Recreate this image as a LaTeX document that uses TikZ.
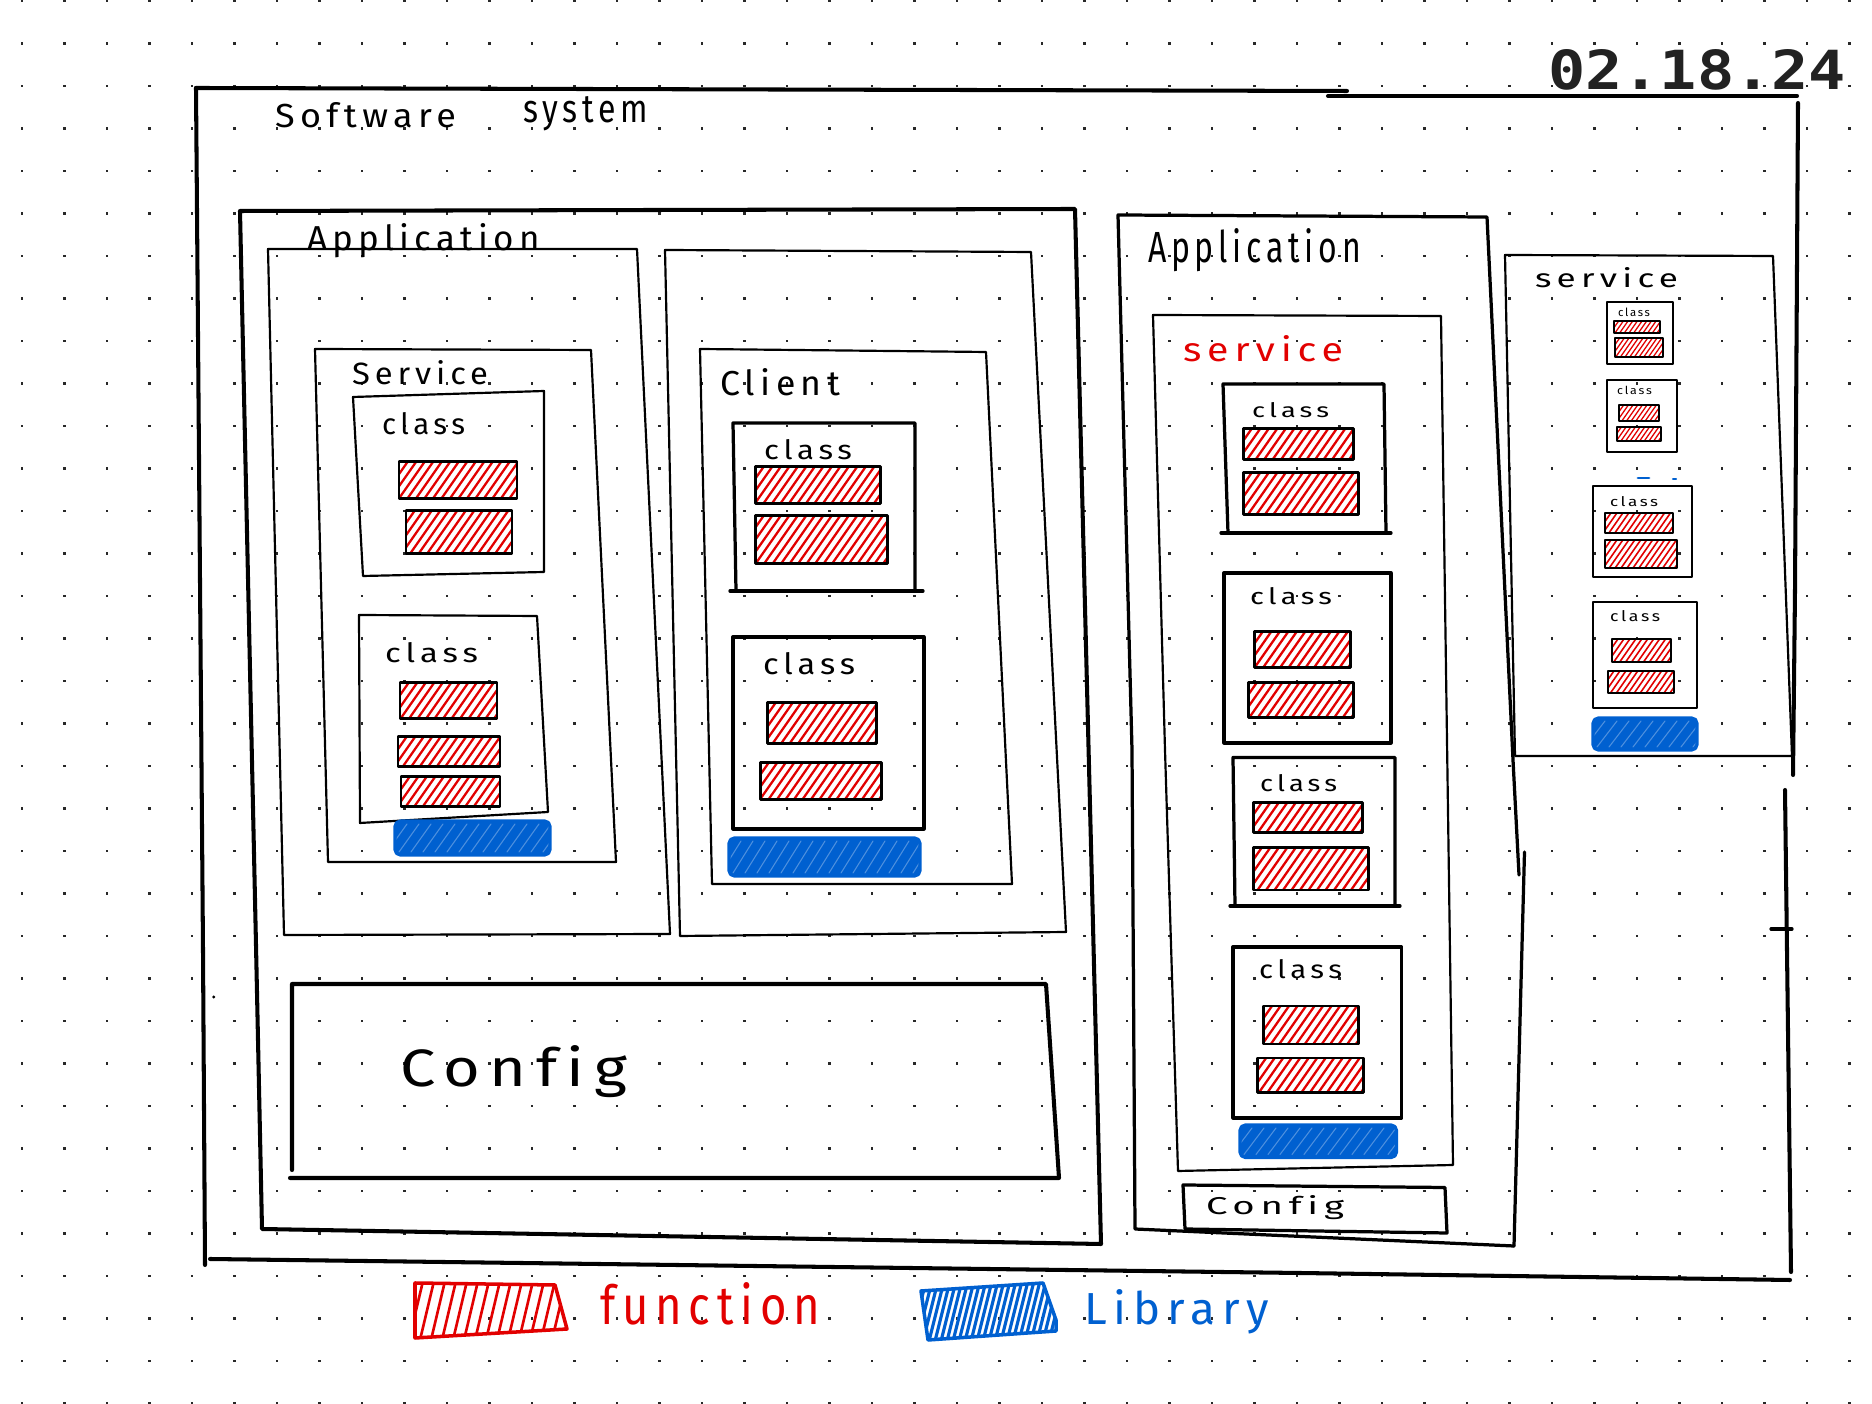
\documentclass[tikz,border=0pt]{standalone}
\usepackage{fontspec}
\usepackage{graphicx}
\setmainfont{Fira Sans}
\newfontfamily\hand{Fira Sans}[LetterSpace=15, Ligatures=NoCommon]
\newfontfamily\datef{DejaVu Sans Mono}
\newlength\pxu
\setlength\pxu{0.01cm}
\newcommand\fitt[3]{\resizebox{#1\pxu}{#2\pxu}{\hand #3}}
\definecolor{fred}{RGB}{226,0,0}
\definecolor{libblue}{RGB}{0,96,208}
\definecolor{dotc}{RGB}{40,40,40}
\definecolor{datec}{RGB}{34,34,34}
\tikzset{
  lab/.style={anchor=base west, inner sep=0pt, outer sep=0pt},
  wfour/.style={line width=1.15pt},
  wthree/.style={line width=0.92pt},
  wtwo/.style={line width=0.62pt},
  wsmall/.style={line width=0.45pt},
  hatchred/.style={fred, line width=0.65pt},
}
% red function bar: [scale]{x1}{y1}{x2}{y2}
\newcommand\fbar[5][1]{%
  \fill[white] (#2,#3) rectangle (#4,#5);
  \begin{scope}
    \clip (#2,#3) rectangle (#4,#5);
    \foreach \k in {0,...,26}{
      \draw[hatchred, line width={0.65pt*#1}] ({#2-0.7*(#5-#3)+\k*8.5*#1},#5) -- ({#2+\k*8.5*#1},#3);
    }
  \end{scope}
  \draw[line width={0.85pt*#1}] (#2,#3) rectangle (#4,#5);
}
% blue library bar
\newcommand\lbar[4]{%
  \fill[libblue, rounded corners=1.5] (#1,#2) rectangle (#3,#4);
  \begin{scope}
    \clip (#1,#2) rectangle (#3,#4);
    \foreach \k in {0,...,18}{
      \draw[white, line width=0.3pt, opacity=0.3] ({#1-20+\k*12},{#4-3}) -- ({#1+\k*12},{#2+3});
    }
  \end{scope}
  \draw[libblue, line width=0.9pt, rounded corners=1.5] (#1,#2) rectangle (#3,#4);
}
\begin{document}
\begin{tikzpicture}[x=0.01cm, y=-0.01cm, line cap=round, line join=round]
\useasboundingbox (0,0) rectangle (1872,1404);
\fill[white] (0,0) rectangle (1872,1404);
% dot grid
\foreach \i in {0,...,43}{
  \foreach \j in {0,...,33}{
    \fill[dotc] ({22+42.5*\i-1.3},{1+42.5*\j-1.3}) rectangle ++(2.6,2.6);
  }
}
% ---------- Software system outer box ----------
\draw[wfour] (196,88) -- (1347,91);
\draw[wfour] (1328,96) -- (1797,96);
\draw[wfour] (1798,103) -- (1795,590) -- (1793,775);
\draw[wfour] (1785,790) -- (1791,1272);
\draw[wthree] (1771,929) -- (1792,929);
\draw[wfour] (196,88) -- (203,950) -- (205,1265);
\draw[wfour] (210,1259) -- (1300,1273) -- (1790,1280);
\fill (213.7,997) circle (1.6);
\node[lab] (tsoft) at (275,128) {\fitt{181}{25}{Software}};
\node[lab] (tsys) at (523,123) {\fitt{125}{26}{system}};
\node[lab, text=datec] (tdate) at (1548,90) {\resizebox{298\pxu}{40\pxu}{\datef\bfseries 02.18.24}};
% ---------- Left application ----------
\draw[wfour] (240,211) -- (1075,209) -- (1101,1244) -- (262,1229) -- (256,945) -- cycle;
\node[lab] (tappl) at (307,251) {\fitt{233}{27}{Application}};
% inner box 1
\draw[wtwo] (268,249) -- (637,249) -- (670,934) -- (284,935) -- cycle;
% Service
\draw[wtwo] (315,349) -- (591,350) -- (616,862) -- (328,862) -- cycle;
\node[lab] (tservl) at (352,385) {\fitt{136}{24}{Service}};
\draw[wtwo] (353,397) -- (544,391) -- (544,572) -- (363,576) -- cycle;
\node[lab] (tcl1) at (382,435) {\fitt{83}{22}{class}};
\fbar{399}{462}{517}{498.5}
\fbar{406}{511}{512}{554}
\draw[wtwo] (359,615) -- (537,616) -- (548,812) -- (360,823) -- cycle;
\node[lab] (tcl2) at (385,663) {\fitt{93}{20}{class}};
\fbar{400}{683}{497}{719}
\fbar{398}{737}{500}{767}
\fbar{401}{777}{500}{807}
\lbar{395}{821}{550}{855}
% client container
\draw[wtwo] (665,250) -- (1031,252) -- (1066,932) -- (680,936) -- cycle;
\draw[wtwo] (700,349) -- (986,352) -- (1012,884) -- (712,884) -- cycle;
\node[lab] (tclient) at (720,396) {\fitt{120}{27}{Client}};
\draw[wthree] (733,423) -- (915,423) -- (915,591) -- (736,591) -- cycle;
\draw[wthree] (730,591) -- (923,591);
\node[lab] (tcl3) at (764,460) {\fitt{88}{20}{class}};
\fbar{755}{467}{880}{504}
\fbar{755}{516}{887}{564}
\draw[wthree] (733,637) -- (924,637) -- (924,829) -- (733,829) -- cycle;
\node[lab] (tcl4) at (763,675) {\fitt{92}{22}{class}};
\fbar{767}{703}{876}{744}
\fbar{760}{763}{881}{800}
\lbar{729}{838}{920}{876}
% Config
\draw[wfour] (292,1170) -- (292,984) -- (1046,984) -- (1059,1178) -- (290,1178);
\node[lab] (tconf) at (400,1087) {\fitt{227}{41}{Config}};
% ---------- Right application ----------
\draw[wthree] (1514,1246) -- (1135,1229) -- (1132,750) -- (1118,215) -- (1487,217) -- (1513,760) -- (1519,875);
\draw[wthree] (1524.5,852) -- (1514,1246);
\node[lab] (tappr) at (1148,263) {\fitt{213}{34}{Application}};
\draw[wtwo] (1153,315) -- (1441,316) -- (1453,1165) -- (1178,1171) -- (1165,750) -- cycle;
\node[lab, text=fred] (tservr) at (1183,362) {\fitt{160}{26}{service}};
\draw[wthree] (1223,384) -- (1384,384) -- (1386,533) -- (1228,533) -- cycle;
\draw[wthree] (1221,533) -- (1391,533);
\node[lab] (tcl5) at (1252,418) {\fitt{77}{15}{class}};
\fbar{1243}{429}{1353}{460}
\fbar{1243}{473}{1358}{515}
\draw[wthree] (1224,573) -- (1391,573) -- (1391,743) -- (1224,743) -- cycle;
\node[lab] (tcl6) at (1250,605) {\fitt{82}{17}{class}};
\fbar{1254}{632}{1350}{668}
\fbar{1248}{683}{1353}{718}
\draw[wthree] (1233,757.5) -- (1395,757.5) -- (1395,906) -- (1235,906) -- cycle;
\draw[wthree] (1230,906) -- (1400,906);
\node[lab] (tcl7) at (1260,792) {\fitt{77}{17}{class}};
\fbar{1253}{803}{1362}{833}
\fbar{1253}{848}{1368}{890}
\draw[wthree] (1233,947) -- (1401.5,947) -- (1401.5,1118) -- (1233,1118) -- cycle;
\node[lab] (tcl8) at (1259,979) {\fitt{83}{19}{class}};
\fbar{1263.5}{1006}{1358.6}{1044}
\fbar{1257.6}{1058}{1363.5}{1092.5}
\lbar{1240}{1125}{1396.5}{1157.5}
\draw[wthree] (1183,1185) -- (1445,1187.5) -- (1447,1233) -- (1185,1229) -- cycle;
\node[lab] (tconf2) at (1206,1215) {\fitt{138}{19}{Config}};
% ---------- far right service ----------
\draw[wtwo] (1505,255) -- (1773,256) -- (1792,756) -- (1515,756) -- cycle;
\node[lab] (tservb) at (1535,288) {\fitt{143}{20}{service}};
\draw[wsmall] (1607,302) rectangle (1673,364);
\node[lab] (ts1) at (1618,317) {\fitt{32}{8.5}{class}};
\fbar[0.55]{1614}{321}{1660}{333}
\fbar[0.55]{1615}{338}{1662.7}{356.7}
\draw[wsmall] (1607,380) rectangle (1677,452);
\node[lab] (ts2) at (1617,395) {\fitt{35}{8.3}{class}};
\fbar[0.55]{1619}{405}{1659}{421}
\fbar[0.55]{1616.7}{427}{1660.7}{441}
\draw[libblue, line width=0.8pt] (1638,478) -- (1649,478);
\draw[libblue, line width=0.6pt] (1673,479) -- (1676,479);
\draw[line width=0.8pt] (1593,486) rectangle (1692,577);
\node[lab] (ts3) at (1610,507) {\fitt{48}{10}{class}};
\fbar[0.7]{1605}{513}{1673}{533}
\fbar[0.7]{1605}{540}{1677}{568}
\draw[line width=0.7pt] (1593,602) rectangle (1697,708);
\node[lab] (ts4) at (1610,622) {\fitt{50}{11}{class}};
\fbar[0.7]{1612}{639}{1671}{662}
\fbar[0.7]{1608}{671}{1674}{693}
\lbar{1593}{718}{1697}{750}
% ---------- legend ----------
\begin{scope}
  \clip (415,1283) -- (555,1285) -- (567,1329) -- (415,1338) -- cycle;
  \foreach \k in {0,...,15}{
    \draw[hatchred, line width=0.75pt] ({398+\k*11},1340) -- ({412+\k*11},1281);
  }
\end{scope}
\draw[fred, line width=1pt] (415,1283) -- (555,1285) -- (567,1329) -- (415,1338) -- cycle;
\node[lab, text=fred] (tfunc) at (600,1325) {\fitt{220}{42}{function}};
\begin{scope}
  \clip (921,1291) -- (1043,1283) -- (1056,1320) -- (1056,1331) -- (928,1340) -- cycle;
  \foreach \k in {0,...,26}{
    \draw[libblue, line width=0.9pt] ({905+\k*6},1341) -- ({920+\k*6},1281);
  }
\end{scope}
\draw[libblue, line width=1pt] (921,1291) -- (1043,1283) -- (1056,1320) -- (1056,1331) -- (928,1340) -- cycle;
\node[lab, text=libblue] (tlib) at (1084,1325) {\fitt{185}{35}{Library}};
\end{tikzpicture}
\end{document}
